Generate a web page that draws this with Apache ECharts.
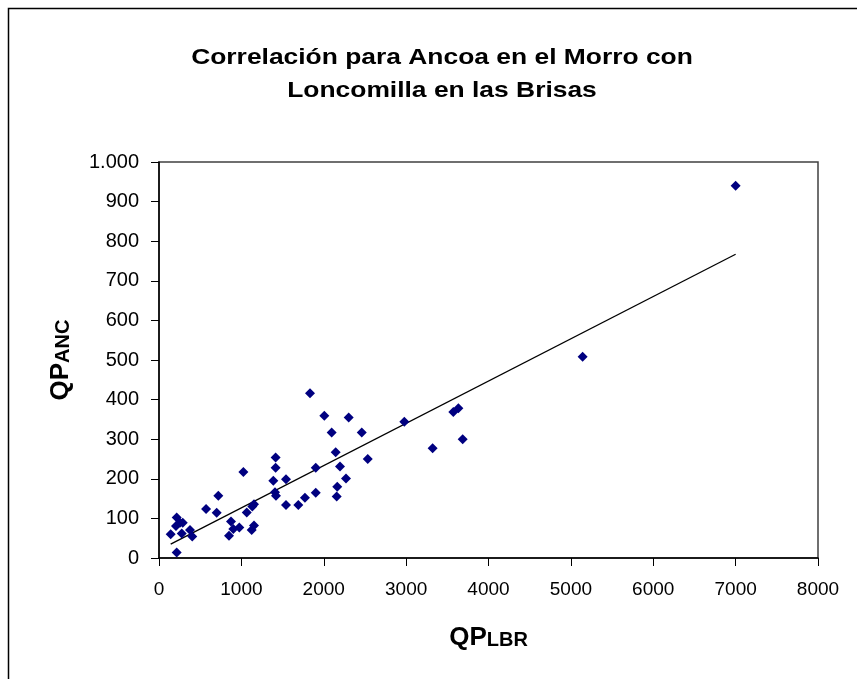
<!DOCTYPE html>
<html>
<head>
<meta charset="utf-8">
<script src="https://cdn.jsdelivr.net/npm/echarts@6/dist/echarts.min.js"></script>
<style>
html,body{margin:0;padding:0;background:#fff;}
#chart{width:857px;height:679px;}
</style>
</head>
<body>
<div id="chart"></div>
<script>
// QP LBR (x) and QP ANC (y) observations
const qpLBR = [142, 215, 206, 255, 288, 276, 215, 376, 404, 571, 700, 720, 850, 874, 902, 975, 1024, 1065, 1125, 1153, 1133, 1153, 1388, 1416, 1416, 1408, 1420, 1542, 1542, 1691, 1772, 1833, 1903, 1903, 2007, 2096, 2145, 2197, 2164, 2157, 2270, 2303, 2461, 2534, 2978, 3322, 3573, 3634, 3687, 5143, 7000];
const qpANC = [60, 102, 81, 89, 89, 62, 14, 71, 54, 124, 114, 157, 56, 92, 73, 77, 217, 115, 71, 82, 130, 136, 195, 228, 254, 166, 157, 199, 134, 134, 152, 416, 228, 165, 359, 317, 267, 231, 180, 155, 201, 355, 317, 250, 344, 277, 369, 378, 300, 508, 940];
// Trend line endpoints
const trendX = [142, 7000];
const trendY = [35, 767];
const xTicks = [0, 1000, 2000, 3000, 4000, 5000, 6000, 7000, 8000];
const yTicks = [0, 100, 200, 300, 400, 500, 600, 700, 800, 900, 1000];
const titleLines = ['Correlación para Ancoa en el Morro con', 'Loncomilla en las Brisas'];

const chart = echarts.init(document.getElementById('chart'), null, {renderer: 'canvas'});
const FONT = '"Liberation Sans", Arial, sans-serif';

function fmtThousands(v) {
  return v >= 1000 ? (Math.floor(v / 1000) + '.' + String(v % 1000).padStart(3, '0')) : String(v);
}

const option = {
  animation: false,
  backgroundColor: '#fff',
  graphic: [
    {
      type: 'rect', left: 6, top: 6, z: -1,
      shape: {width: 900, height: 700},
      style: {fill: 'none', stroke: '#000', lineWidth: 1.5}
    },
    {
      type: 'text', x: 442, y: 74, scaleX: 1.2, scaleY: 1,
      style: {
        text: titleLines.join('\n'),
        font: 'bold 22px "Liberation Sans", Arial, sans-serif',
        fill: '#000', align: 'center', verticalAlign: 'middle', lineHeight: 33
      }
    }
  ],
  grid: {left: 159, right: 39, top: 162, bottom: 121, show: true, borderColor: '#404040', borderWidth: 1.5, backgroundColor: '#fff'},
  xAxis: {
    type: 'value', min: 0, max: 8000, interval: 1000,
    name: '{a|QP}{b|LBR}', nameLocation: 'middle', nameGap: 67,
    nameTextStyle: {rich: {a: {fontFamily: FONT, fontSize: 26, fontWeight: 'bold', color: '#000'}, b: {fontFamily: FONT, fontSize: 20, fontWeight: 'bold', color: '#000', padding: [4,0,0,0]}}},
    axisLine: {onZero: false, lineStyle: {color: '#000', width: 1.5}},
    axisTick: {inside: false, length: 8, lineStyle: {color: '#000'}},
    axisLabel: {fontFamily: FONT, fontSize: 19, color: '#000', margin: 22,
      formatter: v => xTicks.includes(v) ? String(v) : ''},
    splitLine: {show: false}
  },
  yAxis: {
    type: 'value', min: 0, max: 1000, interval: 100,
    name: '{a|QP}{b|ANC}', nameLocation: 'middle', nameGap: 85, nameRotate: 90,
    nameTextStyle: {rich: {a: {fontFamily: FONT, fontSize: 26, fontWeight: 'bold', color: '#000'}, b: {fontFamily: FONT, fontSize: 20, fontWeight: 'bold', color: '#000', padding: [4,0,0,0]}}},
    axisLine: {onZero: false, lineStyle: {color: '#000', width: 1.5}},
    axisTick: {inside: false, length: 8, lineStyle: {color: '#000'}},
    axisLabel: {fontFamily: FONT, fontSize: 20, color: '#000', margin: 20,
      formatter: v => yTicks.includes(v) ? fmtThousands(v) : ''},
    splitLine: {show: false}
  },
  series: [
    {
      type: 'scatter', symbol: 'diamond', symbolSize: 10,
      itemStyle: {color: '#000080', opacity: 1},
      data: qpLBR.map((x, i) => [x, qpANC[i]]),
      z: 3
    },
    {
      type: 'line', symbol: 'none',
      lineStyle: {color: '#000', width: 1.3},
      data: trendX.map((x, i) => [x, trendY[i]]),
      z: 2
    }
  ]
};
chart.setOption(option);
</script>
</body>
</html>
